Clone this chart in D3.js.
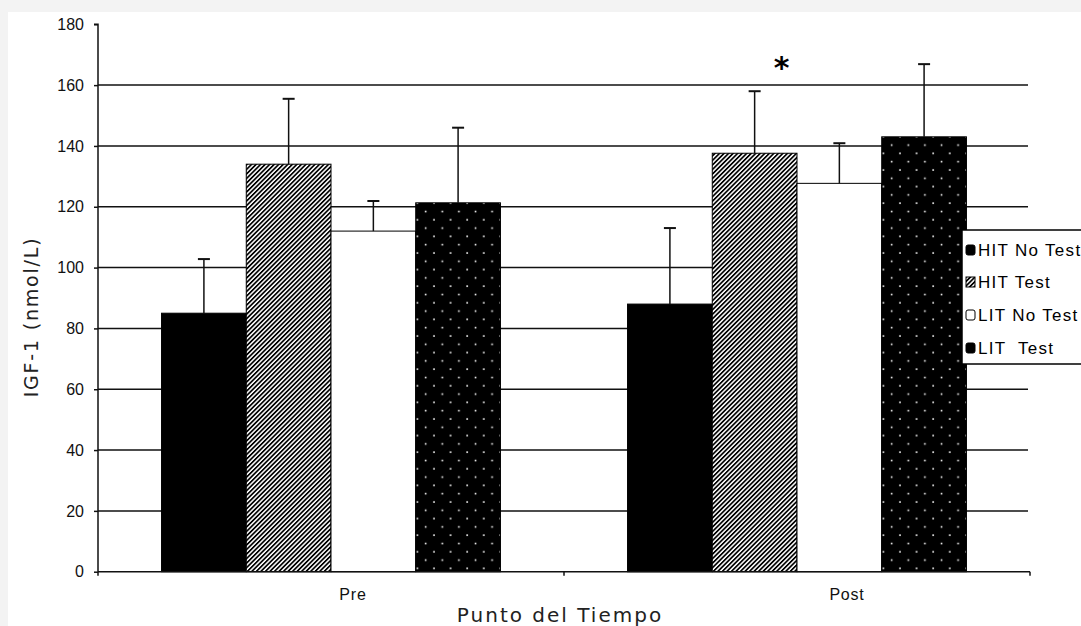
<!DOCTYPE html>
<html>
<head>
<meta charset="utf-8">
<script src="https://cdn.jsdelivr.net/npm/d3@7"></script>
<style>
  html, body { margin: 0; padding: 0; background: #f3f3f3; }
  svg { display: block; }
</style>
</head>
<body>
<svg id="chart" width="1081" height="626"></svg>
<script>
// ---- data ----
const categories = ["Pre", "Post"];
const seriesNames = ["HIT No Test", "HIT Test", "LIT No Test", "LIT  Test"];
const hitNoTest = [85, 88];
const hitTest = [134, 137.6];
const litNoTest = [112, 127.7];
const litTest = [121.3, 143];
const hitNoTestErr = [102.8, 113];
const hitTestErr = [155.5, 158];
const litNoTestErr = [121.9, 140.9];
const litTestErr = [146, 166.9];
const yTicks = [0, 20, 40, 60, 80, 100, 120, 140, 160, 180];
const yTitle = "IGF-1 (nmol/L)";
const xTitle = "Punto del Tiempo";

(function () {
const values = [hitNoTest, hitTest, litNoTest, litTest];
const errs = [hitNoTestErr, hitTestErr, litNoTestErr, litTestErr];

const svg = d3.select("#chart");
svg.append("rect").attr("x", 8).attr("y", 12).attr("width", 1073).attr("height", 614).attr("fill", "#fff");

const defs = svg.append("defs");
const hatch = defs.append("pattern").attr("id", "hatch").attr("patternUnits", "userSpaceOnUse")
  .attr("width", 3.2).attr("height", 3.2).attr("patternTransform", "rotate(45)");
hatch.append("rect").attr("width", 3.2).attr("height", 3.2).attr("fill", "#fff");
hatch.append("rect").attr("width", 1.7).attr("height", 3.2).attr("fill", "#000");

const dots = defs.append("pattern").attr("id", "dots").attr("patternUnits", "userSpaceOnUse")
  .attr("width", 16.6).attr("height", 16.6).attr("x", 0).attr("y", 0);
dots.append("rect").attr("width", 16.6).attr("height", 16.6).attr("fill", "#000");
dots.append("rect").attr("x", 3.2).attr("y", 3.2).attr("width", 1.6).attr("height", 1.6).attr("fill", "#fff");
dots.append("rect").attr("x", 11.5).attr("y", 11.5).attr("width", 1.6).attr("height", 1.6).attr("fill", "#fff");

const fills = ["#000", "url(#hatch)", "#fff", "url(#dots)"];

const pLeft = 98, pRight = 1030, pTop = 24.3, pBottom = 571.7;
const x = d3.scaleBand().domain(categories).range([pLeft, pRight]).paddingInner(0).paddingOuter(0);
const xs = d3.scaleBand().domain(d3.range(seriesNames.length)).range([0, x.bandwidth()]).paddingInner(0).paddingOuter(0.75);
const y = d3.scaleLinear().domain([0, 180]).range([pBottom, pTop]);

// gridlines
svg.append("g").selectAll("line").data(yTicks.filter(t => t > 0 && t < 180)).join("line")
  .attr("x1", pLeft).attr("x2", pRight - 2)
  .attr("y1", d => y(d)).attr("y2", d => y(d))
  .attr("stroke", "#111").attr("stroke-width", 1.5);

// y axis
const yAxis = svg.append("g").attr("transform", `translate(${pLeft},0)`)
  .call(d3.axisLeft(y).tickValues(yTicks).tickSize(4).tickPadding(10));
yAxis.select(".domain").attr("stroke", "#111").attr("stroke-width", 1.5).attr("d", `M-4,${y(180)}H0V${y(0)}`);
yAxis.selectAll(".tick line").attr("stroke", "#111").attr("stroke-width", 1.5);
yAxis.selectAll(".tick text").attr("font-family", "Liberation Sans, Arial, sans-serif").attr("font-size", 16).attr("fill", "#111");

// bars
const groups = svg.append("g").selectAll("g").data(categories).join("g")
  .attr("transform", d => `translate(${x(d)},0)`);
groups.selectAll("rect").data((c, ci) => values.map((v, si) => ({ si, v: v[ci] }))).join("rect")
  .attr("x", d => xs(d.si)).attr("width", xs.bandwidth())
  .attr("y", d => y(d.v)).attr("height", d => y(0) - y(d.v))
  .attr("fill", d => fills[d.si]).attr("stroke", "#000").attr("stroke-width", 1);

// error bars
groups.selectAll("g.err").data((c, ci) => values.map((v, si) => ({ si, v: v[ci], e: errs[si][ci] }))).join("g")
  .attr("class", "err").each(function (d) {
    const g = d3.select(this);
    const cx = xs(d.si) + xs.bandwidth() / 2;
    g.append("line").attr("x1", cx).attr("x2", cx).attr("y1", y(d.v)).attr("y2", y(d.e))
      .attr("stroke", "#111").attr("stroke-width", 1.5);
    g.append("line").attr("x1", cx - 6).attr("x2", cx + 6).attr("y1", y(d.e)).attr("y2", y(d.e))
      .attr("stroke", "#111").attr("stroke-width", 2);
  });

// x axis
svg.append("line").attr("x1", pLeft).attr("x2", pRight).attr("y1", y(0)).attr("y2", y(0))
  .attr("stroke", "#111").attr("stroke-width", 1.5);
const xb = categories.map(c => x(c)).concat([pRight]);
svg.append("g").selectAll("line").data(xb).join("line")
  .attr("x1", d => d).attr("x2", d => d).attr("y1", y(0)).attr("y2", y(0) + 4)
  .attr("stroke", "#111").attr("stroke-width", 1.5);
const labelShift = [22, 50];
svg.append("g").selectAll("text").data(categories).join("text")
  .attr("x", (d, i) => x(d) + x.bandwidth() / 2 + labelShift[i]).attr("y", 600)
  .attr("text-anchor", "middle").attr("font-family", "Liberation Sans, Arial, sans-serif")
  .attr("font-size", 16).attr("letter-spacing", 0.8).attr("fill", "#111").text(d => d);

// titles
svg.append("text").attr("x", 560).attr("y", 622).attr("text-anchor", "middle")
  .attr("font-family", "DejaVu Sans, sans-serif").attr("font-size", 20).attr("letter-spacing", 2)
  .attr("fill", "#222").text(xTitle);
svg.append("text").attr("transform", "translate(38,317) rotate(-90)").attr("text-anchor", "middle")
  .attr("font-family", "DejaVu Sans, sans-serif").attr("font-size", 19).attr("letter-spacing", 1.8)
  .attr("fill", "#222").text(yTitle);

// asterisk
svg.append("text").attr("x", x("Post") + xs(1) + xs.bandwidth() / 2 + 27).attr("y", 78)
  .attr("text-anchor", "middle").attr("font-family", "DejaVu Sans, sans-serif").attr("font-weight", "bold")
  .attr("font-size", 30).attr("fill", "#000").text("*");

// legend
const lg = svg.append("g").attr("transform", "translate(962,230)");
lg.append("rect").attr("width", 130).attr("height", 134).attr("fill", "#fff").attr("stroke", "#000").attr("stroke-width", 1.5);
const rowY = [20, 52, 85, 118];
seriesNames.forEach((s, i) => {
  lg.append("rect").attr("x", 4).attr("y", rowY[i] - 5).attr("width", 9).attr("height", 10)
    .attr("rx", i === 1 ? 0 : 2)
    .attr("fill", i === 3 ? "#000" : fills[i]).attr("stroke", "#000").attr("stroke-width", 1);
  lg.append("text").attr("x", 16).attr("y", rowY[i] + 6)
    .attr("font-family", "Liberation Sans, Arial, sans-serif").attr("font-size", 17)
    .attr("letter-spacing", 1.3).attr("fill", "#000").style("white-space", "pre").text(s);
});
})();
</script>
</body>
</html>
